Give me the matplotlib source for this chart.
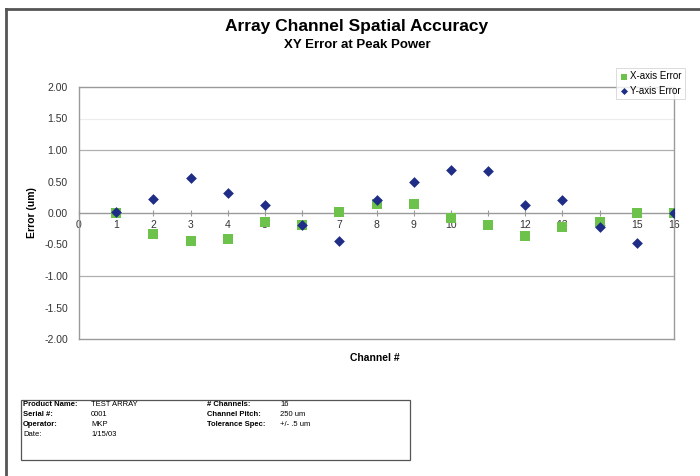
import matplotlib
matplotlib.use("Agg")

import matplotlib.pyplot as plt
from matplotlib.lines import Line2D
from matplotlib.patches import Rectangle

ch = list(range(1, 17))
xe = [0.00, -0.33, -0.44, -0.42, -0.15, -0.19, 0.02, 0.15, 0.15, -0.08, -0.19, -0.37, -0.22, -0.14, 0.00, 0.00]
ye = [0.01, 0.23, 0.55, 0.31, 0.13, -0.19, -0.45, 0.20, 0.50, 0.69, 0.66, 0.12, 0.20, -0.22, -0.48, 0.00]

yt = [2.0, 1.5, 1.0, 0.5, 0.0, -0.5, -1.0, -1.5, -2.0]
xt = list(range(0, 17))

info = [
    ("Product Name:", "TEST ARRAY", "# Channels:", "16"),
    ("Serial #:", "0001", "Channel Pitch:", "250 um"),
    ("Operator:", "MKP", "Tolerance Spec:", "+/- .5 um"),
    ("Date:", "1/15/03", "", ""),
]

gc = "#9a9a9a"
tc = "#333333"

plt.rcParams["font.family"] = ["Liberation Sans", "DejaVu Sans"]

fig = plt.figure(figsize=(7, 4.76), dpi=100)
ax = fig.add_axes([79 / 700, 1 - 339 / 476, 595 / 700, 252 / 476])

ax.scatter(ch, xe, marker="s", s=50, color="#6cc24a", label="X-axis Error", zorder=3, linewidths=0)
ax.scatter(ch, ye, marker="D", s=30, color="#1f2d86", label="Y-axis Error", zorder=4, linewidths=0)

ax.set_xlim(0, 16)
ax.set_ylim(-2, 2)
ax.set_yticks(yt)
ax.set_yticklabels([f"{v:.2f}" for v in yt])
ax.set_xticks(xt)
ax.tick_params(axis="both", labelsize=7.5, colors=tc, length=3)
ax.tick_params(axis="y", length=0, pad=8)
ax.tick_params(axis="x", direction="inout", length=4, pad=3, color=gc)

ax.spines["bottom"].set_position(("data", 0))
for s in ["left", "right", "top", "bottom"]:
    ax.spines[s].set_color(gc)
    ax.spines[s].set_linewidth(1.0)

for v in [1.0, -1.0]:
    ax.axhline(v, color="#b0b0b0", lw=0.9, zorder=1)
ax.axhline(1.5, color="#ececec", lw=0.8, zorder=1)
ax.axhline(-2, color=gc, lw=1.0, zorder=1, clip_on=False)

ax.set_ylabel("Error (um)", fontsize=7.5, fontweight="bold", labelpad=4)
ax.yaxis.set_label_coords(-0.07, 0.5)
fig.text(375 / 700, 1 - 358 / 476, "Channel #", ha="center", va="center", fontsize=7.5, fontweight="bold")

fig.text(357 / 700, 1 - 26 / 476, "Array Channel Spatial Accuracy", ha="center", va="center",
         fontsize=12.5, fontweight="bold")
fig.text(357 / 700, 1 - 45 / 476, "XY Error at Peak Power", ha="center", va="center",
         fontsize=9.5, fontweight="bold")

lg = fig.legend(loc="upper left", bbox_to_anchor=(611 / 700, 1 - 63 / 476), fontsize=7,
                frameon=True, fancybox=False, edgecolor="#cccccc", handletextpad=0.1,
                borderpad=0.35, labelspacing=0.45, handlelength=1.0, markerscale=0.65)
lg.get_frame().set_linewidth(0.6)

fig.add_artist(Line2D([6 / 700, 6 / 700], [0, 1 - 9 / 476], color="#555555", lw=2))
fig.add_artist(Line2D([6 / 700, 1], [1 - 9 / 476, 1 - 9 / 476], color="#555555", lw=2))

fig.add_artist(Rectangle((21 / 700, 1 - 460 / 476), 389 / 700, 60 / 476, fill=False,
                         edgecolor="#555555", lw=0.9, transform=fig.transFigure))

for i, (a, b, c, d) in enumerate(info):
    y = 1 - (404 + i * 10) / 476
    fig.text(23 / 700, y, a, fontsize=5.5, fontweight="bold" if i < 3 else "normal", va="center")
    fig.text(91 / 700, y, b, fontsize=5.5, va="center")
    fig.text(207 / 700, y, c, fontsize=5.5, fontweight="bold", va="center")
    fig.text(280 / 700, y, d, fontsize=5.5, va="center")

fig.savefig("out.png", dpi=100)
